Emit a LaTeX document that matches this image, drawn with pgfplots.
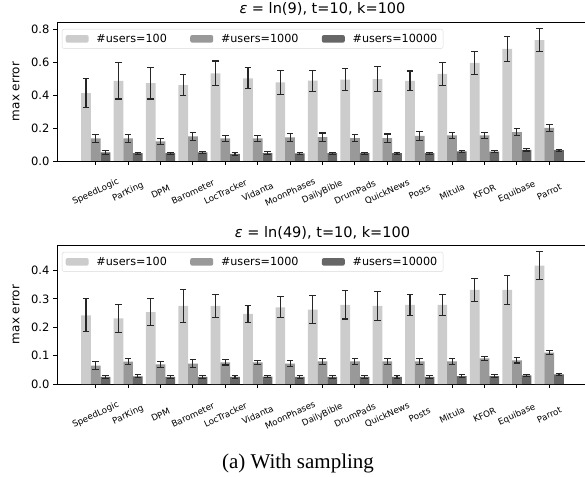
\documentclass[border=0pt]{standalone}
\usepackage{fontspec}
\setmainfont{DejaVu Sans}
\newfontfamily\capfont{Liberation Serif}
\usepackage{pgfplots}
\pgfplotsset{compat=1.18}
\definecolor{lightbar}{HTML}{CCCCCC}
\definecolor{midbar}{HTML}{999999}
\definecolor{darkbar}{HTML}{666666}

\pgfplotsset{
  maxerr/.style={
    scale only axis, width=531pt, height=139pt,
    xmin=-1.195, xmax=15.195, ymin=0,
    ybar=0pt, bar width=9.72pt,
    enlargelimits=false,
    xtick={0,...,14},
    xticklabels={SpeedLogic,ParKing,DPM,Barometer,LocTracker,Vidanta,MoonPhases,DailyBible,DrumPads,QuickNews,Posts,Mitula,KFOR,Equibase,Parrot},
    xticklabel style={font=\fontsize{8.7}{9}\selectfont, yshift=-27pt, rotate=25, anchor=center},
    yticklabel style={font=\fontsize{11.5}{13}\selectfont},
    /pgf/number format/assume math mode=true,
    /pgf/number format/.cd, fixed, fixed zerofill, precision=1, /pgfplots/.cd,
    xtick pos=bottom, ytick pos=left, tick align=outside,
    major tick length=4pt,
    tick style={black, line width=0.9pt},
    axis line style={black, line width=0.9pt},
    ylabel={max error},
    ylabel style={font=\fontsize{12}{14}\selectfont, at={(axis description cs:-0.077,0.5)}, anchor=center},
    title style={font=\fontsize{14.5}{16}\selectfont, at={(0.5,1)}, anchor=base, yshift=2pt},
    legend columns=3,
    legend style={at={(0.0094,0.95)}, anchor=north west, draw=black!15, rounded corners=2pt,
      font=\fontsize{11.2}{12}\selectfont, inner xsep=2pt, inner ysep=1pt,
      /tikz/every even column/.append style={column sep=18pt},
      nodes={inner sep=3.8pt}},
    legend image code/.code={\fill[##1] (0pt,-3.8pt) rectangle (23pt,3.8pt); \path (-1.5pt,0) (27pt,0);},
    error bars/y dir=both, error bars/y explicit,
    error bars/error mark=-,
    error bars/error bar style={line width=1.1pt, black!85},
    error bars/error mark options={rotate=90, mark size=3.3pt, line width=1.1pt, black!85},
  },
  b100/.style={fill=lightbar, draw=none},
  b1k/.style={fill=midbar, draw=none},
  b10k/.style={fill=darkbar, draw=none},
}

\begin{document}
\begin{tikzpicture}
\useasboundingbox (0,0) rectangle (585pt,476pt);

\begin{axis}[maxerr, at={(57pt,315pt)}, anchor=south west,
  ymax=0.845, ytick={0,0.2,0.4,0.6,0.8},
  title={{\itshape ε} = ln(9), t=10, k=100}]
\addplot[b100] coordinates {
 (0,0.412) +- (0,0.088) (1,0.487) +- (0,0.110) (2,0.473) +- (0,0.096)
 (3,0.461) +- (0,0.065) (4,0.533) +- (0,0.075) (5,0.503) +- (0,0.065)
 (6,0.478) +- (0,0.073) (7,0.488) +- (0,0.064) (8,0.495) +- (0,0.068)
 (9,0.497) +- (0,0.075) (10,0.487) +- (0,0.060) (11,0.529) +- (0,0.068)
 (12,0.596) +- (0,0.069) (13,0.681) +- (0,0.075) (14,0.735) +- (0,0.070)};
\addlegendentry{\#users=100}
\addplot[b1k] coordinates {
 (0,0.137) +- (0,0.023) (1,0.137) +- (0,0.023) (2,0.119) +- (0,0.020)
 (3,0.150) +- (0,0.023) (4,0.137) +- (0,0.020) (5,0.137) +- (0,0.020)
 (6,0.143) +- (0,0.022) (7,0.145) +- (0,0.025) (8,0.139) +- (0,0.022)
 (9,0.139) +- (0,0.025) (10,0.153) +- (0,0.027) (11,0.155) +- (0,0.018)
 (12,0.156) +- (0,0.018) (13,0.176) +- (0,0.020) (14,0.202) +- (0,0.020)};
\addlegendentry{\#users=1000}
\addplot[b10k] coordinates {
 (0,0.052) +- (0,0.010) (1,0.048) +- (0,0.006) (2,0.048) +- (0,0.006)
 (3,0.053) +- (0,0.007) (4,0.043) +- (0,0.007) (5,0.048) +- (0,0.007)
 (6,0.047) +- (0,0.006) (7,0.048) +- (0,0.006) (8,0.048) +- (0,0.006)
 (9,0.048) +- (0,0.006) (10,0.048) +- (0,0.006) (11,0.058) +- (0,0.007)
 (12,0.057) +- (0,0.007) (13,0.068) +- (0,0.007) (14,0.066) +- (0,0.006)};
\addlegendentry{\#users=10000}
\end{axis}

\begin{axis}[maxerr, at={(57pt,92pt)}, anchor=south west,
  ymax=0.49, ytick={0,0.1,0.2,0.3,0.4},
  title={{\itshape ε} = ln(49), t=10, k=100}]
\addplot[b100] coordinates {
 (0,0.242) +- (0,0.058) (1,0.231) +- (0,0.050) (2,0.253) +- (0,0.047)
 (3,0.275) +- (0,0.058) (4,0.275) +- (0,0.039) (5,0.247) +- (0,0.030)
 (6,0.270) +- (0,0.037) (7,0.262) +- (0,0.050) (8,0.279) +- (0,0.050)
 (9,0.275) +- (0,0.052) (10,0.279) +- (0,0.036) (11,0.279) +- (0,0.036)
 (12,0.332) +- (0,0.040) (13,0.332) +- (0,0.051) (14,0.417) +- (0,0.050)};
\addlegendentry{\#users=100}
\addplot[b1k] coordinates {
 (0,0.065) +- (0,0.013) (1,0.079) +- (0,0.011) (2,0.069) +- (0,0.011)
 (3,0.072) +- (0,0.013) (4,0.076) +- (0,0.009) (5,0.076) +- (0,0.007)
 (6,0.072) +- (0,0.010) (7,0.080) +- (0,0.011) (8,0.080) +- (0,0.011)
 (9,0.080) +- (0,0.011) (10,0.080) +- (0,0.011) (11,0.080) +- (0,0.011)
 (12,0.090) +- (0,0.008) (13,0.083) +- (0,0.009) (14,0.111) +- (0,0.008)};
\addlegendentry{\#users=1000}
\addplot[b10k] coordinates {
 (0,0.025) +- (0,0.006) (1,0.027) +- (0,0.005) (2,0.025) +- (0,0.005)
 (3,0.025) +- (0,0.005) (4,0.025) +- (0,0.005) (5,0.026) +- (0,0.004)
 (6,0.025) +- (0,0.005) (7,0.025) +- (0,0.005) (8,0.025) +- (0,0.005)
 (9,0.025) +- (0,0.005) (10,0.025) +- (0,0.005) (11,0.028) +- (0,0.004)
 (12,0.028) +- (0,0.004) (13,0.030) +- (0,0.004) (14,0.034) +- (0,0.004)};
\addlegendentry{\#users=10000}
\end{axis}

\node[font=\capfont\fontsize{21}{24}\selectfont, anchor=base] at (298pt,8pt) {(a) With sampling};
\end{tikzpicture}
\end{document}
